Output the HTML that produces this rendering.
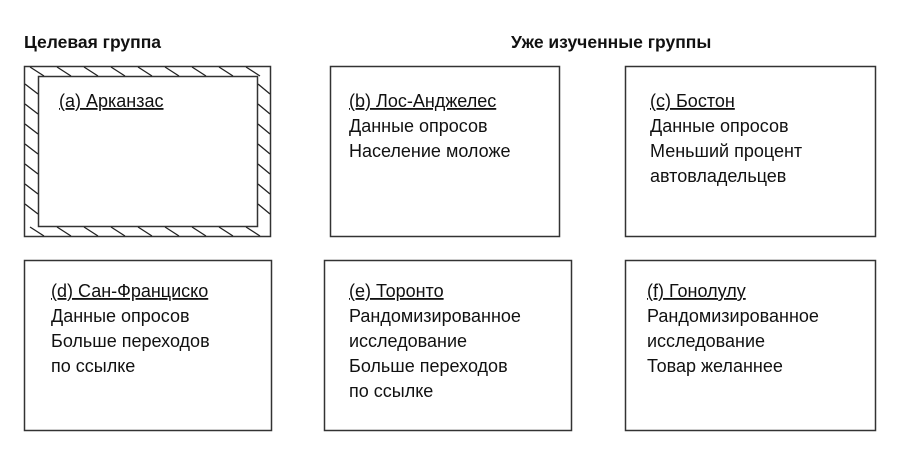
<!DOCTYPE html>
<html><head><meta charset="utf-8"><style>
html,body{margin:0;padding:0;background:#fff;}
svg{display:block;}
text{font-family:"Liberation Sans","DejaVu Sans",sans-serif;fill:#111;font-size:18px;}
.t{font-weight:bold;font-size:17.5px;}
</style></head><body>
<svg width="904" height="453" viewBox="0 0 904 453" xmlns="http://www.w3.org/2000/svg">
<text class="t" x="24" y="48">Целевая группа</text>
<text class="t" x="511" y="48">Уже изученные группы</text>
<g fill="none" stroke="#333" stroke-width="1.5">
<rect x="24.5" y="66.5" width="246" height="170"/>
<rect x="38.5" y="76.5" width="219" height="150"/>
<rect x="330.5" y="66.5" width="229" height="170"/>
<rect x="625.5" y="66.5" width="250" height="170"/>
<rect x="24.5" y="260.5" width="247" height="170"/>
<rect x="324.5" y="260.5" width="247" height="170"/>
<rect x="625.5" y="260.5" width="250" height="170"/>
</g>
<g stroke="#222" stroke-width="1.3">
<line x1="30" y1="67" x2="44" y2="76"/><line x1="57" y1="67" x2="71" y2="76"/><line x1="84" y1="67" x2="98" y2="76"/><line x1="111" y1="67" x2="125" y2="76"/><line x1="138" y1="67" x2="152" y2="76"/><line x1="165" y1="67" x2="179" y2="76"/><line x1="192" y1="67" x2="206" y2="76"/><line x1="219" y1="67" x2="233" y2="76"/><line x1="246" y1="67" x2="260" y2="76"/>
<line x1="30" y1="227" x2="44" y2="236"/><line x1="57" y1="227" x2="71" y2="236"/><line x1="84" y1="227" x2="98" y2="236"/><line x1="111" y1="227" x2="125" y2="236"/><line x1="138" y1="227" x2="152" y2="236"/><line x1="165" y1="227" x2="179" y2="236"/><line x1="192" y1="227" x2="206" y2="236"/><line x1="219" y1="227" x2="233" y2="236"/><line x1="246" y1="227" x2="260" y2="236"/>
<line x1="25" y1="84" x2="38" y2="94"/><line x1="25" y1="104" x2="38" y2="114"/><line x1="25" y1="124" x2="38" y2="134"/><line x1="25" y1="144" x2="38" y2="154"/><line x1="25" y1="164" x2="38" y2="174"/><line x1="25" y1="184" x2="38" y2="194"/><line x1="25" y1="204" x2="38" y2="214"/>
<line x1="258" y1="84" x2="270" y2="94"/><line x1="258" y1="104" x2="270" y2="114"/><line x1="258" y1="124" x2="270" y2="134"/><line x1="258" y1="144" x2="270" y2="154"/><line x1="258" y1="164" x2="270" y2="174"/><line x1="258" y1="184" x2="270" y2="194"/><line x1="258" y1="204" x2="270" y2="214"/>
</g>
<text x="59" y="107" text-decoration="underline">(a) Арканзас</text>
<text x="349" y="107" text-decoration="underline">(b) Лос-Анджелес</text>
<text x="349" y="132">Данные опросов</text>
<text x="349" y="157">Население моложе</text>
<text x="650" y="107" text-decoration="underline">(c) Бостон</text>
<text x="650" y="132">Данные опросов</text>
<text x="650" y="157">Меньший процент</text>
<text x="650" y="182">автовладельцев</text>
<text x="51" y="297" text-decoration="underline">(d) Сан-Франциско</text>
<text x="51" y="322">Данные опросов</text>
<text x="51" y="347">Больше переходов</text>
<text x="51" y="372">по ссылке</text>
<text x="349" y="297" text-decoration="underline">(e) Торонто</text>
<text x="349" y="322">Рандомизированное</text>
<text x="349" y="347">исследование</text>
<text x="349" y="372">Больше переходов</text>
<text x="349" y="397">по ссылке</text>
<text x="647" y="297" text-decoration="underline">(f) Гонолулу</text>
<text x="647" y="322">Рандомизированное</text>
<text x="647" y="347">исследование</text>
<text x="647" y="372">Товар желаннее</text>
</svg>
</body></html>
